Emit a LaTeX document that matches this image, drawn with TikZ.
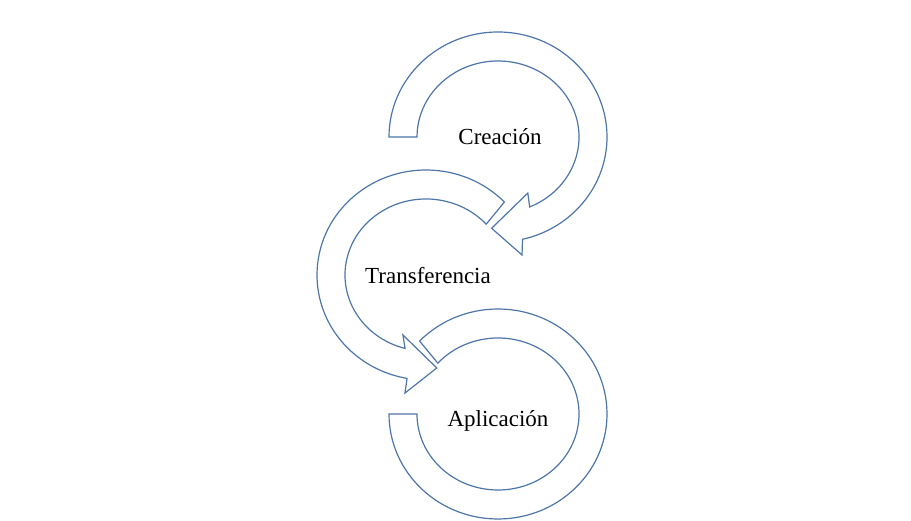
\documentclass[tikz,border=0pt]{standalone}
\usepackage{fontspec}
\setmainfont{Liberation Serif}
\usetikzlibrary{calc}
\definecolor{ringblue}{RGB}{79,118,168}

\begin{document}
\begin{tikzpicture}[x=1pt,y=1pt,
    ring/.style={draw=ringblue,line width=1.2pt,fill=white,line join=miter},
    lbl/.style={font=\fontsize{23}{27}\selectfont}]
  \useasboundingbox (0,0) rectangle (911,521);
  \coordinate (c1) at (498,384);
  \coordinate (c2) at (426,246);
  \coordinate (c3) at (498,107);
  \draw[ring] ($(c1)+(180:109pt and 105pt)$) arc[start angle=180,end angle=-77,x radius=109pt,y radius=105pt]
    -- ($(c1)+(-78.5:120.4pt)$) -- ($(c1)+(-94:91.5pt)$) -- ($(c1)+(-62:63.5pt)$)
    -- ($(c1)+(-67:81pt and 76pt)$) arc[start angle=-67,end angle=180,x radius=81pt,y radius=76pt] -- cycle;
  \draw[ring] ($(c2)+(42:81pt and 76pt)$) -- ($(c2)+(44:109pt and 105pt)$)
    arc[start angle=44,end angle=260,x radius=109pt,y radius=105pt]
    -- ($(c2)+(259.9:119.9pt)$) -- ($(c2)+(276.6:93.6pt)$) -- ($(c2)+(249:64.3pt)$)
    -- ($(c2)+(255:81pt and 76pt)$) arc[start angle=255,end angle=42,x radius=81pt,y radius=76pt] -- cycle;
  \draw[ring] ($(c3)+(138:81pt and 76pt)$) -- ($(c3)+(136:109pt and 105pt)$)
    arc[start angle=136,end angle=-180,x radius=109pt,y radius=105pt]
    -- ($(c3)+(180:81pt and 76pt)$) arc[start angle=-180,end angle=138,x radius=81pt,y radius=76pt] -- cycle;
  \node[lbl] (crea) at (500,384) {Creación};
  \node[lbl] (trans) at (428,245) {Transferencia};
  \node[lbl] (apli) at (498,100) {Aplicación};
\end{tikzpicture}
\end{document}
